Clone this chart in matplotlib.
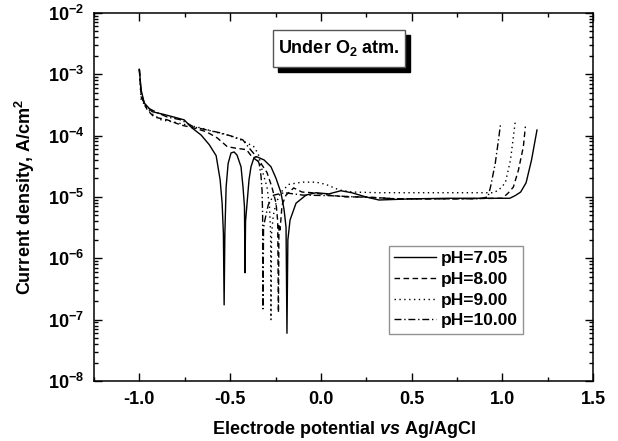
import numpy as np
import matplotlib.pyplot as plt
from matplotlib.patches import Rectangle
from matplotlib.ticker import NullFormatter

plt.rcParams['font.family'] = ['Liberation Sans', 'DejaVu Sans']
plt.rcParams['font.weight'] = 'bold'
plt.rcParams['axes.labelweight'] = 'bold'
plt.rcParams['mathtext.fontset'] = 'custom'
plt.rcParams['mathtext.rm'] = 'Liberation Sans:bold'
plt.rcParams['mathtext.it'] = 'Liberation Sans:bold:italic'
plt.rcParams['mathtext.bf'] = 'Liberation Sans:bold'

# ---------------------------------------------------------------
# Data (E vs Ag/AgCl, |i| in A/cm2)
# ---------------------------------------------------------------
labels = ['pH=7.05', 'pH=8.00', 'pH=9.00', 'pH=10.00']
decades = [-8, -7, -6, -5, -4, -3, -2]

E_705 = [-1.00, -0.99, -0.973, -0.93, -0.863, -0.81, -0.753, -0.71, -0.66, -0.615,
         -0.577, -0.555, -0.544, -0.537, -0.533, -0.529, -0.522, -0.511, -0.495,
         -0.478, -0.462, -0.440, -0.429, -0.421, -0.418, -0.415, -0.396, -0.385,
         -0.368, -0.352, -0.313, -0.275, -0.247, -0.220, -0.203, -0.192, -0.187,
         -0.182, -0.170, -0.137, -0.082, -0.027, 0.044, 0.11, 0.17, 0.247, 0.32,
         0.50, 0.70, 0.90, 1.04, 1.07, 1.10, 1.13, 1.16, 1.19]
I_705 = [1.2e-3, 5.5e-4, 3.4e-4, 2.45e-4, 2.2e-4, 2.0e-4, 1.8e-4, 1.33e-4, 1.02e-4, 7.1e-5,
         4.7e-5, 1.9e-5, 7.9e-6, 2.5e-6, 1.74e-7, 2.5e-6, 1.45e-5, 3.5e-5, 5.2e-5,
         5.4e-5, 4.8e-5, 3.1e-5, 1.45e-5, 6.9e-6, 5.8e-7, 4.0e-6, 1.9e-5, 3.1e-5,
         4.4e-5, 4.5e-5, 4.0e-5, 3.1e-5, 2.0e-5, 1.17e-5, 6.2e-6, 3.2e-6, 6.0e-8,
         2.0e-6, 4.2e-6, 7.9e-6, 1.07e-5, 1.17e-5, 1.12e-5, 1.26e-5, 1.17e-5, 1.0e-5, 8.9e-6,
         9.3e-6, 9.5e-6, 9.5e-6, 9.5e-6, 1.05e-5, 1.2e-5, 1.7e-5, 4.0e-5, 1.23e-4]

E_800 = [-1.00, -0.99, -0.956, -0.918, -0.846, -0.77, -0.70, -0.63, -0.57, -0.516,
         -0.467, -0.41, -0.38, -0.33, -0.297, -0.27, -0.247, -0.238, -0.234, -0.231,
         -0.225, -0.214, -0.192, -0.15, -0.104, -0.049, 0.044, 0.137, 0.247, 0.41,
         0.70, 1.00, 1.033, 1.06, 1.088, 1.115, 1.126]
I_800 = [1.2e-3, 4.3e-4, 2.6e-4, 2.0e-4, 1.8e-4, 1.48e-4, 1.33e-4, 1.15e-4, 9.1e-5, 6.6e-5,
         6.2e-5, 5.9e-5, 4.5e-5, 3.5e-5, 2.5e-5, 1.45e-5, 7.9e-6, 4.0e-6, 1.3e-7, 3.5e-6,
         2.9e-6, 7.4e-6, 1.07e-5, 1.4e-5, 1.2e-5, 1.17e-5, 1.07e-5, 1.0e-5, 1.0e-5, 9.3e-6,
         9.3e-6, 9.5e-6, 1.17e-5, 1.45e-5, 2.75e-5, 6.6e-5, 1.4e-4]

E_900 = [-1.00, -0.99, -0.934, -0.88, -0.81, -0.736, -0.66, -0.588, -0.516, -0.44,
         -0.37, -0.345, -0.324, -0.297, -0.283, -0.277, -0.275, -0.272, -0.262, -0.247,
         -0.22, -0.176, -0.104, -0.027, 0.027, 0.10, 0.17, 0.32, 0.60, 0.95, 0.98,
         1.016, 1.044, 1.06, 1.07]
I_900 = [1.2e-3, 3.8e-4, 2.3e-4, 1.8e-4, 1.66e-4, 1.48e-4, 1.33e-4, 1.15e-4, 1.02e-4, 8.5e-5,
         6.6e-5, 5.0e-5, 2.75e-5, 1.45e-5, 6.9e-6, 2.5e-6, 1.0e-7, 2.5e-6, 5.0e-6, 7.9e-6,
         1.2e-5, 1.6e-5, 1.74e-5, 1.74e-5, 1.6e-5, 1.3e-5, 1.2e-5, 1.17e-5, 1.17e-5, 1.17e-5, 1.3e-5,
         1.7e-5, 4.0e-5, 9.5e-5, 1.66e-4]

E_1000 = [-1.00, -0.99, -0.967, -0.90, -0.846, -0.77, -0.70, -0.626, -0.55, -0.478,
          -0.43, -0.396, -0.36, -0.34, -0.33, -0.324, -0.321, -0.319, -0.316, -0.31,
          -0.29, -0.26, -0.20, -0.10, 0.04, 0.20, 0.43, 0.87, 0.92, 0.934, 0.96,
          0.978, 0.99]
I_1000 = [1.2e-3, 5.0e-4, 2.95e-4, 2.35e-4, 2.0e-4, 1.8e-4, 1.38e-4, 1.23e-4, 1.1e-4, 9.5e-5,
          8.5e-5, 6.3e-5, 4.7e-5, 3.5e-5, 2.2e-5, 1.26e-5, 5.0e-6, 1.5e-7, 3.0e-6, 4.0e-6,
          7.4e-6, 1.07e-5, 1.17e-5, 1.07e-5, 1.05e-5, 1.0e-5, 9.3e-6, 9.3e-6, 1.0e-5, 1.45e-5, 3.5e-5,
          8.5e-5, 1.6e-4]

# ---------------------------------------------------------------
# Plot
# ---------------------------------------------------------------
fig = plt.figure(figsize=(6.18, 4.41), dpi=100)
ax = fig.add_axes([0.152, 0.136, 0.808, 0.835])

ax.plot(E_705, I_705, color='black', lw=1.0, ls='-', label=labels[0])
ax.plot(E_800, I_800, color='black', lw=1.0, ls=(0, (4, 2.5)), label=labels[1])
ax.plot(E_900, I_900, color='black', lw=1.0, ls=(0, (1, 2.5)), label=labels[2])
ax.plot(E_1000, I_1000, color='black', lw=1.0, ls=(0, (5, 2, 1, 2)), label=labels[3])

ax.set_yscale('log')
ax.set_xlim(-1.25, 1.5)
ax.set_ylim(1e-8, 1e-2)
ax.set_xticks([-1.0, -0.5, 0.0, 0.5, 1.0, 1.5])
ax.set_xticklabels(['-1.0', '-0.5', '0.0', '0.5', '1.0', '1.5'])
ax.set_xticks(np.arange(-1.25, 1.51, 0.25), minor=True)
ax.set_yticks([10.0 ** k for k in decades])
ax.set_yticklabels([r'10$^{%d}$' % k for k in decades])
ax.yaxis.set_minor_formatter(NullFormatter())

ax.tick_params(which='both', direction='in', top=True, right=True,
               labelsize=13, width=1.0)
ax.tick_params(which='major', length=6, pad=7)
ax.tick_params(which='minor', length=3)
for s in ax.spines.values():
    s.set_linewidth(1.1)

ax.set_xlabel(r'Electrode potential $vs$ Ag/AgCl', fontsize=13, labelpad=8)
ax.set_ylabel(r'Current density, A/cm$^2$', fontsize=13, labelpad=8)

leg = ax.legend(loc='upper left', bbox_to_anchor=(0.591, 0.367), fontsize=12.5,
                frameon=True, fancybox=False, handlelength=2.4, borderpad=0.3,
                labelspacing=0.32, handletextpad=0.3, borderaxespad=0)
leg.get_frame().set_edgecolor('#777777')
leg.get_frame().set_linewidth(1.0)

# title box with drop shadow
bx, by, bw, bh = (273 - 94) / 499, 1 - (67 - 13) / 368, 132 / 499, 37 / 368
dx, dy = 5 / 499, 5 / 368
ax.add_patch(Rectangle((bx + dx, by - dy), bw, bh, transform=ax.transAxes,
                       facecolor='black', edgecolor='black', zorder=5))
ax.add_patch(Rectangle((bx, by), bw, bh, transform=ax.transAxes,
                       facecolor='white', edgecolor='#555555', lw=1.0, zorder=6))
ax.text(bx + bw / 2, by + bh / 2, r'Under O$_2$ atm.', transform=ax.transAxes,
        ha='center', va='center', fontsize=13, zorder=7)

fig.savefig('out.png', dpi=100)
